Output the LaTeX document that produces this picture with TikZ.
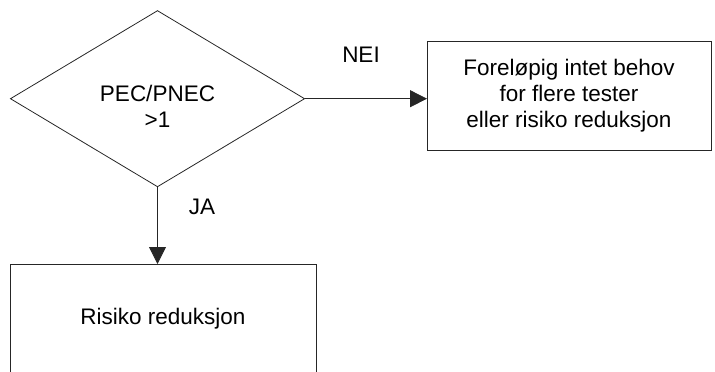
\documentclass[tikz,border=0pt]{standalone}
\usepackage{fontspec}
\setmainfont{Liberation Sans}
\usetikzlibrary{shapes.geometric,arrows.meta}
\begin{document}
\begin{tikzpicture}[x=1pt,y=-1pt,
  lin/.style={draw=black!85,line width=0.8pt},
  dia/.style={lin,diamond,inner sep=0pt,outer sep=0pt,minimum width=294pt,minimum height=176pt},
  box/.style={lin,rectangle,inner sep=0pt,outer sep=0pt,align=center},
  txt/.style={align=center,inner sep=0pt},
  arr/.style={lin,-{Triangle[length=17pt,width=17pt]}},
  every node/.style={font=\fontsize{22.5pt}{26pt}\selectfont}]
\useasboundingbox (0,0) rectangle (715,372);
\node[dia] (d) at (157.5,98.7) {};
\node[txt] (dtext) at (157.5,106) {PEC/PNEC\\>1};
\node[box,minimum width=284pt,minimum height=109pt] (r) at (569,95.5)
  {Foreløpig intet behov\\for flere tester\\eller risiko reduksjon};
\node[box,minimum width=306pt,minimum height=110pt] (b) at (163,319) {Risiko reduksjon};
\draw[arr] (d.east) -- (d.east -| r.west);
\draw[arr] (d.south) -- (d.south |- b.north);
\node[txt,anchor=base] (nei) at (361,62) {NEI};
\node[txt,anchor=base] (ja) at (202,214) {JA};
\end{tikzpicture}
\end{document}
